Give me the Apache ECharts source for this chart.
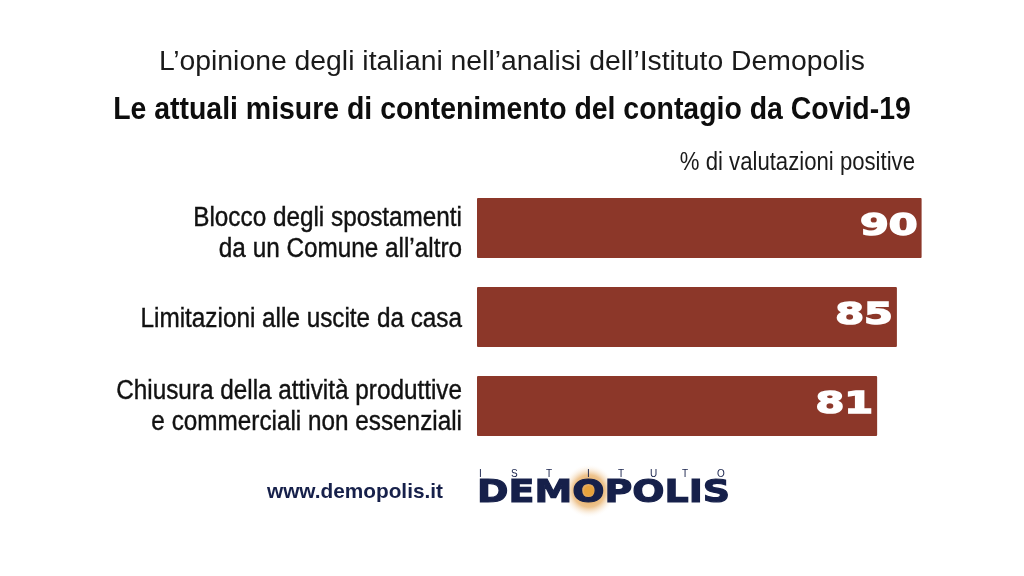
<!DOCTYPE html>
<html>
<head>
<meta charset="utf-8">
<style>html,body{margin:0;padding:0;background:#fff}#chart{width:1024px;height:576px}</style>
<script src="https://cdn.jsdelivr.net/npm/echarts@6/dist/echarts.min.js"></script>
</head>
<body>
<div id="chart"></div>
<script>
var categories = ['Blocco degli spostamenti\nda un Comune all’altro', 'Limitazioni alle uscite da casa', 'Chiusura della attività produttive\ne commerciali non essenziali'];
var values = [90, 85, 81];

var SANS = 'Liberation Sans';
var NAVY = '#16204a';
var INK = '#111';
// labels do not sit exactly centred on their bars in the original
var labelNudge = [6.5, 2.5, 1];

// small helper: spaced letter of the "ISTITUTO" line in the logo
function logoLetter(ch, x) {
    return { type: 'text', x: x, y: 469, style: { text: ch, fontFamily: SANS, fontSize: 10, fill: NAVY } };
}

var option = {
    backgroundColor: '#fff',
    animation: false,
    grid: { left: 477, top: 183.5, width: 494, height: 267 },
    xAxis: { type: 'value', min: 0, max: 100, show: false },
    yAxis: {
        type: 'category',
        inverse: true,
        data: categories,
        axisLine: { show: false },
        axisTick: { show: false },
        axisLabel: { show: false }
    },
    series: [
        {
            type: 'bar',
            data: values,
            barWidth: 60,
            itemStyle: { color: '#8c3729', borderRadius: 1 }
        },
        {
            // lettering of the original is stretched, so labels are scaled text
            type: 'custom',
            data: values.map(function (v, i) { return [v, i]; }),
            encode: { x: 0, y: 1 },
            z: 5,
            renderItem: function (params, api) {
                var i = api.value(1);
                var p = api.coord([api.value(0), i]);
                var base = api.coord([0, i]);
                return {
                    type: 'group',
                    children: [
                        {
                            type: 'text',
                            x: base[0] - 15,
                            y: base[1] + labelNudge[i],
                            scaleX: 0.9,
                            style: {
                                text: categories[i],
                                fontFamily: SANS, fontSize: 27, lineHeight: 31,
                                fill: INK, stroke: INK, lineWidth: 0.4,
                                align: 'right', verticalAlign: 'middle'
                            }
                        },
                        {
                            type: 'text',
                            x: p[0] - 4,
                            y: p[1] - 1,
                            scaleX: 1.38,
                            style: {
                                text: String(api.value(0)),
                                fontFamily: 'DejaVu Sans', fontWeight: 'bold', fontSize: 30,
                                fill: '#fff', stroke: '#fff', lineWidth: 1.5,
                                align: 'right', verticalAlign: 'middle',
                                shadowColor: '#2a0d08', shadowBlur: 1, shadowOffsetX: 1, shadowOffsetY: 2
                            }
                        }
                    ]
                };
            }
        }
    ],
    graphic: [
        { type: 'text', x: 512, y: 49, scaleX: 1.05, style: { text: 'L’opinione degli italiani nell’analisi dell’Istituto Demopolis', fontFamily: SANS, fontSize: 27, fill: '#1a1a1a', align: 'center' } },
        { type: 'text', x: 512, y: 95, scaleX: 0.917, style: { text: 'Le attuali misure di contenimento del contagio da Covid-19', fontFamily: SANS, fontWeight: 'bold', fontSize: 31, fill: '#0d0d0d', align: 'center' } },
        { type: 'text', x: 915, y: 151, scaleX: 0.886, style: { text: '% di valutazioni positive', fontFamily: SANS, fontSize: 25, fill: '#1a1a1a', align: 'right' } },

        { type: 'text', x: 267, y: 482, scaleX: 0.99, style: { text: 'www.demopolis.it', fontFamily: SANS, fontWeight: 'bold', fontSize: 21, fill: NAVY } },
        { type: 'circle', shape: { cx: 589, cy: 491, r: 27 }, style: { fill: { type: 'radial', x: 0.5, y: 0.5, r: 0.5, colorStops: [{ offset: 0, color: '#e09a3c' }, { offset: 0.6, color: '#eec48f' }, { offset: 1, color: 'rgba(255,255,255,0)' }] } } },
        logoLetter('I', 479), logoLetter('S', 511), logoLetter('T', 546), logoLetter('I', 587),
        logoLetter('T', 618), logoLetter('U', 650), logoLetter('T', 682), logoLetter('O', 717),
        { type: 'text', x: 477, y: 478, scaleX: 1.355, scaleY: 1.15, style: { text: 'DEMOPOLIS', fontFamily: 'DejaVu Sans', fontWeight: 'bold', fontSize: 28, fill: NAVY, stroke: NAVY, lineWidth: 1 } },
        { type: 'circle', shape: { cx: 589, cy: 491, r: 5 }, style: { fill: '#e6a23c' } }
    ]
};

var chart = echarts.init(document.getElementById('chart'));
chart.setOption(option);
</script>
</body>
</html>
